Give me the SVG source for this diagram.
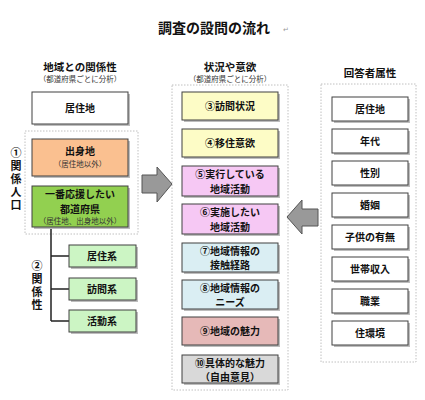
<svg xmlns="http://www.w3.org/2000/svg" width="425" height="400" viewBox="0 0 425 400">
<defs>
<style>
text{font-family:"Noto Sans CJK JP","Noto Sans",sans-serif;font-weight:bold;fill:#111;text-anchor:middle}
.t{font-size:10px}
.v{font-size:11px;writing-mode:vertical-rl;text-anchor:start;letter-spacing:2px}
.s{font-size:7.5px;font-weight:normal;fill:#333}
.h{font-size:10.5px}
.box{stroke:#404040;stroke-width:1}
.sh{fill:#bdbdbd}
.dash{fill:none;stroke:#b0b0b0;stroke-width:0.8;stroke-dasharray:1.5 1.5}
.arr{fill:#999;stroke:#555;stroke-width:1}
.ln{stroke:#222;stroke-width:1.5;fill:none}
</style>
</defs>
<rect width="425" height="400" fill="#fff"/>
<text x="214" y="33" style="font-size:14px">調査の設問の流れ</text>
<text x="286" y="32" style="font-size:7px;font-weight:normal;fill:#999">↵</text>

<!-- headers -->
<text class="h" x="80" y="70.5">地域との関係性</text>
<text class="s" x="80" y="82">（都道府県ごとに分析）</text>
<text class="h" x="230" y="70.5">状況や意欲</text>
<text class="s" x="230" y="82">（都道府県ごとに分析）</text>
<text class="h" x="370" y="77">回答者属性</text>

<!-- dashed groups -->
<rect class="dash" x="25" y="131" width="113" height="103"/>
<rect class="dash" x="172" y="85" width="116" height="305"/>
<rect class="dash" x="321" y="84" width="95" height="278"/>

<!-- left vertical labels -->
<g id="label1">
<text class="v" x="16" y="147">①関係人口</text>
</g>
<g id="label2">
<text class="v" x="37" y="260">②関係性</text>
</g>

<!-- connectors -->
<g id="connectors">
<path class="ln" d="M51 227 V321 M51 256 H69 M51 289 H69 M51 321 H69"/>
<path class="arr" d="M142 175 H157 V167 L172 184 L157 202 V193 H142 Z"/>
<path class="arr" d="M318 209 H302 V200 L287 217 L302 234 V226 H318 Z"/>
</g>

<!-- left nodes -->
<g id="n-kyojuchi">
<rect class="sh" x="34" y="94" width="96" height="32"/>
<rect class="box" x="32" y="92" width="96" height="32" fill="#fff"/>
<text class="t" x="80" y="112">居住地</text>
</g>
<g id="n-shusshin">
<rect class="sh" x="34" y="141" width="96" height="37"/>
<rect class="box" x="32" y="139" width="96" height="37" fill="#fac090"/>
<text class="t" x="80" y="155">出身地</text>
<text class="s" x="80" y="167">（居住地以外）</text>
</g>
<g id="n-ouen">
<rect class="sh" x="34" y="188" width="96" height="41"/>
<rect class="box" x="32" y="186" width="96" height="41" fill="#92d050"/>
<text class="t" x="80" y="198">一番応援したい<tspan x="80" dy="14.5">都道府県</tspan></text>
<text class="s" x="80" y="224">（居住地、出身地以外）</text>
</g>
<g id="n-kyojukei">
<rect class="sh" x="71" y="247" width="67" height="22"/>
<rect class="box" x="69" y="245" width="67" height="22" fill="#ccf5c4"/>
<text class="t" x="102" y="260">居住系</text>
</g>
<g id="n-houmonkei">
<rect class="sh" x="71" y="280" width="67" height="22"/>
<rect class="box" x="69" y="278" width="67" height="22" fill="#ccf5c4"/>
<text class="t" x="102" y="293">訪問系</text>
</g>
<g id="n-katsudoukei">
<rect class="sh" x="71" y="312" width="67" height="22"/>
<rect class="box" x="69" y="310" width="67" height="22" fill="#ccf5c4"/>
<text class="t" x="102" y="325">活動系</text>
</g>

<!-- middle nodes -->
<g id="n3">
<rect class="sh" x="184" y="94" width="96" height="28"/>
<rect class="box" x="182" y="92" width="96" height="28" fill="#fdfcc6"/>
<text class="t" x="230" y="110">③訪問状況</text>
</g>
<g id="n4">
<rect class="sh" x="184" y="131" width="96" height="28"/>
<rect class="box" x="182" y="129" width="96" height="28" fill="#fdfcc6"/>
<text class="t" x="230" y="147">④移住意欲</text>
</g>
<g id="n5">
<rect class="sh" x="184" y="168" width="96" height="30"/>
<rect class="box" x="182" y="166" width="96" height="30" fill="#f6c8f4"/>
<text class="t" x="230" y="178">⑤実行している<tspan x="230" dy="14.6">地域活動</tspan></text>
</g>
<g id="n6">
<rect class="sh" x="184" y="206" width="96" height="30"/>
<rect class="box" x="182" y="204" width="96" height="30" fill="#f6c8f4"/>
<text class="t" x="230" y="216">⑥実施したい<tspan x="230" dy="14.6">地域活動</tspan></text>
</g>
<g id="n7">
<rect class="sh" x="184" y="245" width="96" height="29"/>
<rect class="box" x="182" y="243" width="96" height="29" fill="#daeef3"/>
<text class="t" x="230" y="254.5">⑦地域情報の<tspan x="230" dy="14.6">接触経路</tspan></text>
</g>
<g id="n8">
<rect class="sh" x="184" y="282" width="96" height="29"/>
<rect class="box" x="182" y="280" width="96" height="29" fill="#daeef3"/>
<text class="t" x="230" y="291.5">⑧地域情報の<tspan x="230" dy="14.6">ニーズ</tspan></text>
</g>
<g id="n9">
<rect class="sh" x="184" y="319" width="96" height="28"/>
<rect class="box" x="182" y="317" width="96" height="28" fill="#e6b9b8"/>
<text class="t" x="230" y="335">⑨地域の魅力</text>
</g>
<g id="n10">
<rect class="sh" x="184" y="357" width="96" height="28"/>
<rect class="box" x="182" y="355" width="96" height="28" fill="#d9d9d9"/>
<text class="t" x="230" y="366.5">⑩具体的な魅力<tspan x="230" dy="14.6">（自由意見）</tspan></text>
</g>

<!-- right nodes -->
<g id="r1"><rect class="sh" x="334" y="99" width="76" height="24"/><rect class="box" x="332" y="97" width="76" height="24" fill="#fff"/><text class="t" x="370" y="113">居住地</text></g>
<g id="r2"><rect class="sh" x="334" y="131" width="76" height="24"/><rect class="box" x="332" y="129" width="76" height="24" fill="#fff"/><text class="t" x="370" y="145">年代</text></g>
<g id="r3"><rect class="sh" x="334" y="163" width="76" height="24"/><rect class="box" x="332" y="161" width="76" height="24" fill="#fff"/><text class="t" x="370" y="177">性別</text></g>
<g id="r4"><rect class="sh" x="334" y="195" width="76" height="24"/><rect class="box" x="332" y="193" width="76" height="24" fill="#fff"/><text class="t" x="370" y="209">婚姻</text></g>
<g id="r5"><rect class="sh" x="334" y="227" width="76" height="24"/><rect class="box" x="332" y="225" width="76" height="24" fill="#fff"/><text class="t" x="370" y="241">子供の有無</text></g>
<g id="r6"><rect class="sh" x="334" y="259" width="76" height="24"/><rect class="box" x="332" y="257" width="76" height="24" fill="#fff"/><text class="t" x="370" y="273">世帯収入</text></g>
<g id="r7"><rect class="sh" x="334" y="291" width="76" height="24"/><rect class="box" x="332" y="289" width="76" height="24" fill="#fff"/><text class="t" x="370" y="305">職業</text></g>
<g id="r8"><rect class="sh" x="334" y="323" width="76" height="24"/><rect class="box" x="332" y="321" width="76" height="24" fill="#fff"/><text class="t" x="370" y="337">住環境</text></g>
</svg>
